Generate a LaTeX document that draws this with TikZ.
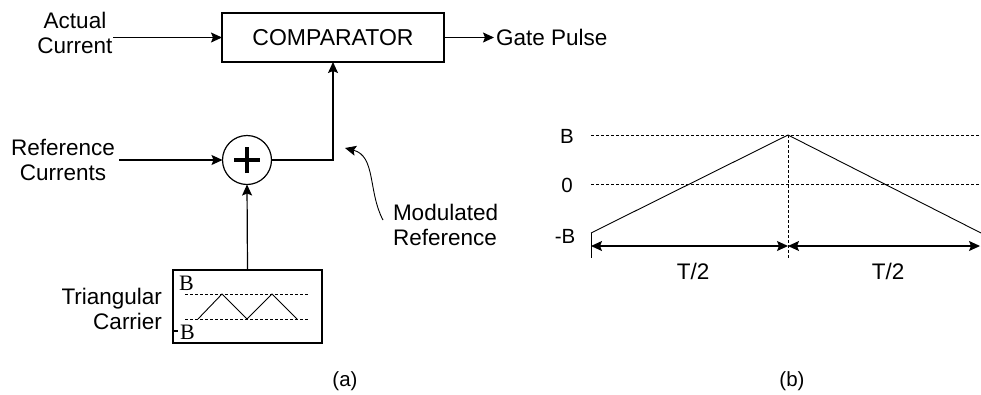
\documentclass[tikz,border=0pt]{standalone}
\usepackage{fontspec}
\setmainfont{Liberation Sans}
\newfontfamily\seriffont{Liberation Serif}
\usetikzlibrary{arrows.meta}

\begin{document}
\begin{tikzpicture}[x=1pt,y=-1pt,
  every node/.style={inner sep=0pt, outer sep=0pt},
  lbl/.style={font=\fontsize{22.5}{25}\selectfont, align=center},
  small lbl/.style={font=\fontsize{20.5}{23}\selectfont, align=center},
  wire/.style={line width=1.2pt},
  tip/.tip={Stealth[length=11pt,width=10pt,inset=2pt]},
  arr/.style={wire,-tip},
  box/.style={draw, line width=1.2pt, rectangle},
  grid/.style={line width=0.8pt, dash pattern=on 3pt off 2pt},
  thin wave/.style={line width=0.9pt},
]
\useasboundingbox (0,0) rectangle (981,394);

% ---------- (a) block diagram ----------
\node[box, minimum width=222pt, minimum height=49pt,
      font=\fontsize{23}{26}\selectfont] (cmp) at (333,37.5) {COMPARATOR};

\node[lbl] (act) at (75,32.5) {Actual\\Current};
\coordinate (actin) at (113,37.5);
\draw[arr] (actin) -- (cmp.west);

\node[lbl, anchor=west] (gate) at (496,37.5) {Gate Pulse};
\draw[arr, shorten >=2pt] (cmp.east) -- (gate.west);

\node[draw, circle, line width=1.2pt, minimum size=49pt] (sum) at (247,160) {};
\draw[line width=3.8pt] ([xshift=-13pt]sum.center) -- ([xshift=13pt]sum.center);
\draw[line width=3.8pt] ([yshift=-13pt]sum.center) -- ([yshift=13pt]sum.center);
\draw[arr] (sum.east) -| (cmp.south);

\node[lbl] (refc) at (63,160) {Reference\\Currents};
\coordinate (refin) at (119,160);
\draw[arr] (refin) -- (sum.west);

\node[box, minimum width=149pt, minimum height=73pt] (car) at (247.5,306.5) {};
\draw[arr] (car.north) -- (sum.south);
\draw[grid] (185,294) -- (308,294);
\draw[grid] (185,319) -- (308,319);
\draw[thin wave] (198,319) -- (222,294) -- (247,319) -- (272,294) -- (297,319);
\node[font=\seriffont\fontsize{22}{22}\selectfont, anchor=west] (cb) at (179,283) {B};
\node[font=\seriffont\fontsize{22}{22}\selectfont, anchor=west] (cnb) at (180,332) {B};
\draw[line width=2pt] (172,331) -- (178,331);

\node[lbl, align=right, anchor=east] (tc) at (162,309) {Triangular\\Carrier};

\node[lbl, align=left, anchor=west] (mod) at (393,225) {Modulated\\Reference};
\coordinate (modtail) at (383,220);
\coordinate (modtip) at (345,148);
\draw[thin wave, -tip] (modtail) .. controls (368,192) and (376,156) .. (modtip);

\node[small lbl] (capa) at (345,381) {(a)};

% ---------- (b) carrier waveform ----------
\coordinate (bl) at (591,135);
\coordinate (br) at (981,135);
\coordinate (zl) at (591,184);
\coordinate (zr) at (981,184);
\coordinate (peak) at (788,135);
\coordinate (pbot) at (788,258);
\coordinate (st) at (591,233);
\coordinate (stb) at (591,258);
\coordinate (en) at (981,233);
\coordinate (al) at (591,246);
\coordinate (am) at (788,246);
\coordinate (ar) at (980,246);

\draw[grid] (bl) -- (br);
\draw[grid] (zl) -- (zr);
\draw[grid] (peak) -- (pbot);
\draw[thin wave] (st) -- (peak) -- (en);
\draw[thin wave] (st) -- (stb);
\draw[wire, tip-tip] (al) -- (am);
\draw[wire, tip-tip] (am) -- (ar);

\node[small lbl] (lb) at (567,136) {B};
\node[small lbl] (l0) at (567,185) {0};
\node[small lbl] (lnb) at (565,236) {-B};
\node[lbl] (t1) at (693,271) {T/2};
\node[lbl] (t2) at (888,271) {T/2};

\node[small lbl] (capb) at (792,381) {(b)};
\end{tikzpicture}
\end{document}
